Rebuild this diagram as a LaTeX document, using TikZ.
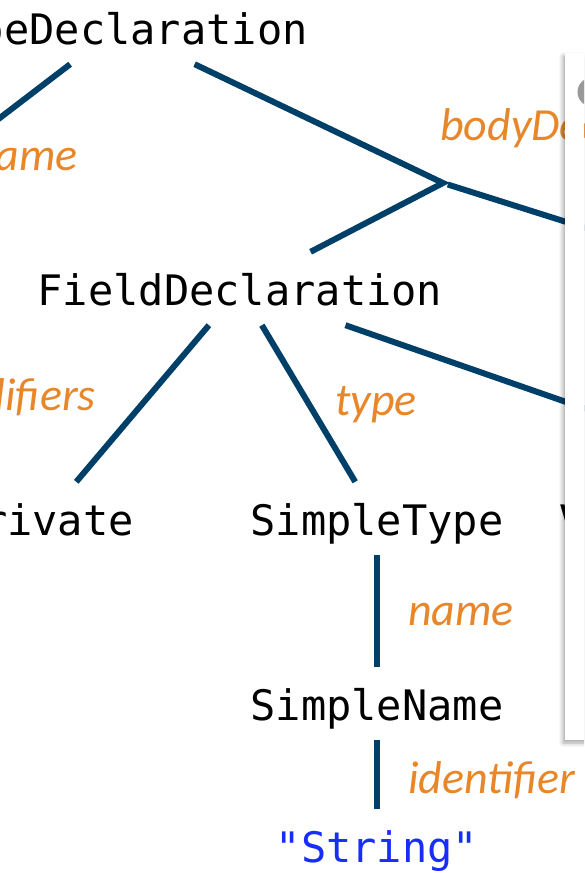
\documentclass[tikz,border=0pt]{standalone}
\usepackage{fontspec}
\setmonofont{DejaVu Sans Mono}
\newfontfamily\rolefont{Carlito}
\usepackage{tikz}
\usetikzlibrary{shadows.blur}
\definecolor{edgeblue}{RGB}{0,64,104}
\definecolor{roleorange}{RGB}{232,135,42}
\definecolor{litblue}{RGB}{25,45,250}
\tikzstyle{edge} = [draw=edgeblue, line width=6pt]
\tikzstyle{astnode} = [font=\ttfamily\fontsize{42pt}{50pt}\selectfont, text height=33pt, text depth=0pt, inner xsep=2pt, inner ysep=20pt]
\tikzstyle{role} = [font=\rolefont\itshape\fontsize{46pt}{54pt}\selectfont, text=roleorange, inner sep=0pt]

\begin{document}
\begin{tikzpicture}[yscale=-1]
	\useasboundingbox (0pt,0pt) rectangle (584pt,873pt);
	\clip (0pt,0pt) rectangle (584pt,873pt);
	% tree nodes
	\node[astnode, anchor=base] (td) at (118pt,44pt) {TypeDeclaration};
	\node[astnode, anchor=base] (fd) at (240pt,305pt) {FieldDeclaration};
	\node[astnode, anchor=base east] (priv) at (136pt,535pt) {private};
	\node[astnode, anchor=base] (st) at (377pt,535pt) {SimpleType};
	\node[astnode, anchor=base west] (vdf) at (557pt,535pt) {VariableDeclarationFragment};
	\node[astnode, anchor=base] (sn) at (377pt,720pt) {SimpleName};
	\node[astnode, anchor=base, text=litblue] (lit) at (377pt,862pt) {"String"};
	\coordinate (tdname) at (-186pt,260pt);
	\coordinate (bd) at (443pt,183pt);
	\coordinate (md) at (1000pt,359pt);
	% edges
	\draw[edge] (td) -- (tdname);
	\draw[edge] (td) -- (bd) -- (fd);
	\draw[edge, shorten <=5pt] (bd) -- (md);
	\draw[edge] (fd) -- (priv);
	\draw[edge] (fd) -- (st);
	\draw[edge] (fd) -- (vdf);
	\draw[edge] (st) -- (sn);
	\draw[edge] (sn) -- (lit);
	% edge labels
	\node[role, anchor=base east] (lname) at (78pt,170pt) {name};
	\node[role, anchor=base west] (lbody) at (440pt,140pt) {bodyDeclarations};
	\node[role, anchor=base east] (lmod) at (96pt,410pt) {modifiers};
	\node[role, anchor=base west] (ltype) at (335pt,415pt) {type};
	\node[role, anchor=base west] (lsname) at (408pt,625pt) {name};
	\node[role, anchor=base west] (lident) at (408pt,793pt) {identifier};
	% side panel
	\fill[white, blur shadow={shadow xshift=-2pt, shadow yshift=-3pt, shadow blur radius=4pt, shadow opacity=35}] (565pt,53pt) rectangle (640pt,740pt);
	\fill[black!40] (592pt,92pt) circle (14.5pt);
\end{tikzpicture}
\end{document}
